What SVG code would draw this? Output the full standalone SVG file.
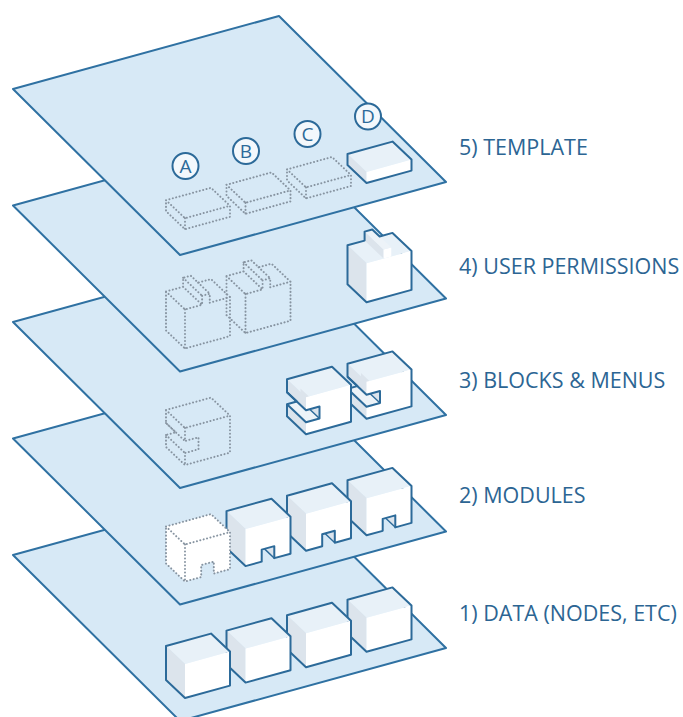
<svg xmlns="http://www.w3.org/2000/svg" width="683" height="717" viewBox="0 0 683 717">
<style>
.plane{fill:#d7e9f6;stroke:#2f71a2;stroke-width:2;stroke-linejoin:round}
.top{fill:#e8f1f8}
.side{fill:#dce4ec}
.front{fill:#ffffff}
.floor{fill:#edf3f8}
.ol{fill:none;stroke:#2c6a99;stroke-width:2;stroke-linejoin:round}
.il{fill:none;stroke:#2c6a99;stroke-width:1.4;stroke-linejoin:round}
.dot{fill:none;stroke:#8794a1;stroke-width:2;stroke-linecap:round;stroke-linejoin:round;stroke-dasharray:0.1 3.4}
.wfill{fill:#ffffff}
.ring{fill:#f3f8fc;stroke:#2c6a99;stroke-width:2}
.letter{font-family:"Open Sans","DejaVu Sans",sans-serif;font-size:19px;fill:#2c6a99;text-anchor:middle}
.label{font-family:"Open Sans","DejaVu Sans",sans-serif;font-size:21.5px;fill:#2c6593}
</style>
<defs>
<polygon id="planeShape" class="plane" points="13,89 279,16 446,182 180,255"/>
<g id="cube">
<path class="top" d="M0,-34 L45,-46.4 L64,-28.4 L19,-16 Z"/>
<path class="side" d="M0,-34 L19,-16 L19,18 L0,0 Z"/>
<path class="front" d="M19,-16 L64,-28.4 L64,5.6 L19,18 Z"/>
<path class="ol" d="M0,-34 L45,-46.4 L64,-28.4 L64,5.6 L19,18 L0,0 Z"/>
</g>
<g id="module">
<path class="top" d="M0,-37 L45,-49.4 L64,-31.4 L19,-19 Z"/>
<path class="side" d="M0,-37 L19,-19 L19,18 L0,0 Z"/>
<path class="side" d="M47.8,10.06 L47.8,-1.94 L28.8,-19.94 L28.8,-7.94 Z"/>
<path class="front" d="M19,-19 L64,-31.4 L64,5.6 L47.8,10.06 L47.8,-1.94 L35.2,1.54 L35.2,13.54 L19,18 Z"/>
<path class="il" d="M47.8,10.06 L38,0.77"/>
<path class="ol" d="M0,-37 L45,-49.4 L64,-31.4 L64,5.6 L47.8,10.06 L47.8,-1.94 L35.2,1.54 L35.2,13.54 L19,18 L0,0 Z"/>
</g>
<g id="moduleDot">
<path class="wfill" d="M0,-37 L45,-49.4 L64,-31.4 L64,5.6 L47.8,10.06 L47.8,-1.94 L35.2,1.54 L35.2,13.54 L19,18 L0,0 Z"/>
<path class="dot" d="M0,-37 L45,-49.4 L64,-31.4 L64,5.6 L47.8,10.06 L47.8,-1.94 L35.2,1.54 L35.2,13.54 L19,18 L0,0 Z M0,-37 L19,-19 L64,-31.4 M19,-19 L19,18"/>
</g>
<g id="cblock">
<path class="top" d="M0,-37 L45,-49.4 L64,-31.4 L19,-19 Z"/>
<path class="side" d="M13.5,-15.72 L32.5,2.28 L32.5,-9.72 L13.5,-27.72 Z"/>
<path class="floor" d="M0,-12 L13.5,-15.72 L32.5,2.28 L19,6 Z"/>
<path class="side" d="M0,0 L19,18 L19,6 L0,-12 Z"/>
<path class="side" d="M0,-24 L19,-6 L19,-19 L0,-37 Z"/>
<path class="front" d="M19,18 L64,5.6 L64,-31.4 L19,-19 L19,-6 L32.5,-9.72 L32.5,2.28 L19,6 Z"/>
<path class="il" d="M32.5,2.28 L22.68,-7.02"/>
<path class="ol" d="M0,-24 L19,-6 L32.5,-9.72 L32.5,2.28 L19,6 L0,-12"/>
<path class="ol" d="M0,-37 L45,-49.4 L64,-31.4 L64,5.6 L19,18 L0,0 L0,-12 L9.81,-14.7 L0,-24 Z"/>
</g>
<g id="cblockDot">
<path class="dot" d="M0,-37 L45,-49.4 L64,-31.4 L64,5.6 L19,18 L0,0 L0,-12 L9.81,-14.7 L0,-24 Z M0,-37 L19,-19 L64,-31.4 M19,-19 L19,-6 L32.5,-9.72 L32.5,2.28 L19,6 L19,18 M0,-24 L19,-6 M0,-12 L19,6"/>
</g>
<g id="tab">
<path class="top" d="M0,-39 L45,-51.4 L64,-33.4 L19,-21 Z"/>
<path class="side" d="M0,-39 L19,-21 L19,18 L0,0 Z"/>
<path class="front" d="M19,-21 L64,-33.4 L64,5.6 L19,18 Z"/>
<path class="side" d="M17.1,-43.71 L36.1,-25.71 L36.1,-34.71 L17.1,-52.71 Z"/>
<path class="front" d="M36.1,-25.71 L43.75,-27.82 L43.75,-36.82 L36.1,-34.71 Z"/>
<path class="floor" d="M17.1,-52.71 L24.75,-54.82 L43.75,-36.82 L36.1,-34.71 Z"/>
<path class="ol" d="M0,-39 L17.1,-43.71 L17.1,-52.71 L24.75,-54.82 L32.11,-47.85 L45,-51.4 L64,-33.4 L64,5.6 L19,18 L0,0 Z"/>
</g>
<g id="tabDot">
<path class="dot" d="M0,-39 L17.1,-43.71 L17.1,-52.71 L24.75,-54.82 L32.11,-47.85 L45,-51.4 L64,-33.4 L64,5.6 L19,18 L0,0 Z M0,-39 L19,-21 L36.1,-25.71 M43.75,-27.82 L64,-33.4 M19,-21 L19,18 M17.1,-43.71 L36.1,-25.71 L36.1,-34.71 L43.75,-36.82 L43.75,-27.82 M17.1,-52.71 L36.1,-34.71 M32.11,-47.85 L43.75,-36.82"/>
</g>
<g id="flat">
<path class="top" d="M0,-11 L45,-23.4 L64,-5.4 L19,7 Z"/>
<path class="side" d="M0,-11 L19,7 L19,18 L0,0 Z"/>
<path class="front" d="M19,7 L64,-5.4 L64,5.6 L19,18 Z"/>
<path class="ol" d="M0,-11 L45,-23.4 L64,-5.4 L64,5.6 L19,18 L0,0 Z"/>
</g>
<g id="flatDot">
<path class="dot" d="M0,-11 L45,-23.4 L64,-5.4 L64,5.6 L19,18 L0,0 Z M0,-11 L19,7 L64,-5.4 M19,7 L19,18"/>
</g>
</defs>

<g id="layer1-data">
<use href="#planeShape" y="466"/>
<use href="#cube" x="347.5" y="633.8"/>
<use href="#cube" x="287" y="649.2"/>
<use href="#cube" x="226.5" y="664.6"/>
<use href="#cube" x="166" y="680"/>
</g>
<g id="layer2-modules">
<use href="#planeShape" y="349.5"/>
<use href="#module" x="347.5" y="517.3"/>
<use href="#module" x="287" y="532.7"/>
<use href="#module" x="226.5" y="548.1"/>
<use href="#moduleDot" x="166" y="563.5"/>
</g>
<g id="layer3-blocks">
<use href="#planeShape" y="233"/>
<use href="#cblock" x="347.5" y="400.8"/>
<use href="#cblock" x="287" y="416.2"/>
<use href="#cblockDot" x="166" y="447"/>
</g>
<g id="layer4-permissions">
<use href="#planeShape" y="116.5"/>
<use href="#tab" x="347.5" y="284.3"/>
<use href="#tabDot" x="226.5" y="315.1"/>
<use href="#tabDot" x="166" y="330.5"/>
</g>
<g id="layer5-template">
<use href="#planeShape"/>
<use href="#flat" x="347.5" y="165"/>
<use href="#flatDot" x="287" y="180.4"/>
<use href="#flatDot" x="226.5" y="195.8"/>
<use href="#flatDot" x="166" y="211.2"/>
<g id="marker-a"><circle class="ring" cx="185.5" cy="166" r="13"/><text class="letter" x="185.5" y="172.8">A</text></g>
<g id="marker-b"><circle class="ring" cx="246" cy="151" r="13"/><text class="letter" x="246" y="157.8">B</text></g>
<g id="marker-c"><circle class="ring" cx="307.5" cy="134" r="13"/><text class="letter" x="307.5" y="140.8">C</text></g>
<g id="marker-d"><circle class="ring" cx="368" cy="116.5" r="13"/><text class="letter" x="368" y="123.3">D</text></g>
</g>
<g id="labels">
<text class="label" x="459" y="155">5) TEMPLATE</text>
<text class="label" x="459" y="274">4) USER PERMISSIONS</text>
<text class="label" x="459" y="388">3) BLOCKS &amp; MENUS</text>
<text class="label" x="459" y="503">2) MODULES</text>
<text class="label" x="459" y="621">1) DATA (NODES, ETC)</text>
</g>
<g id="connectors"/>
</svg>
